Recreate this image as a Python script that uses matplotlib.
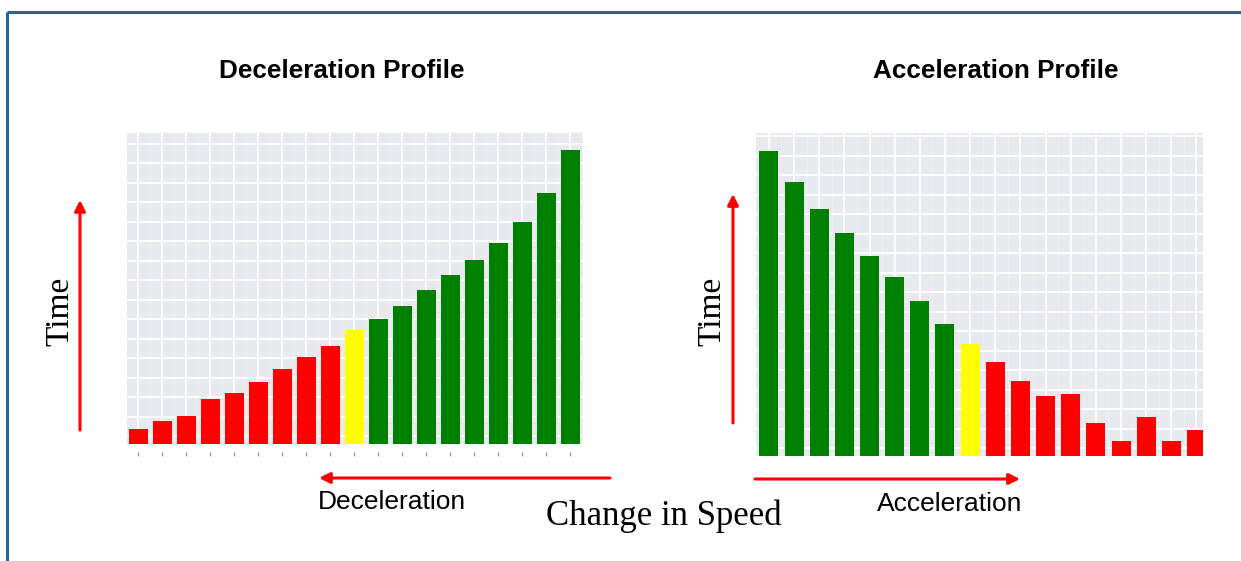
import numpy as np
import matplotlib
matplotlib.use('Agg')
import matplotlib.pyplot as plt
from matplotlib.ticker import FixedLocator

# ==========================================
# 数据 (从参考图中读出的柱高, 单位: 像素高度)
# ==========================================
decel_heights = [15, 23, 28, 45, 51, 62, 75, 87, 98, 114,
                 125, 138, 154, 169, 184, 201, 222, 251, 294]
decel_colors = ['red'] * 9 + ['yellow'] + ['green'] * 9

accel_heights = [305, 274, 247, 223, 200, 179, 155, 132, 112,
                 94, 75, 60, 62, 33, 15, 39, 15, 26]
accel_colors = ['green'] * 8 + ['yellow'] + ['red'] * 9

color_map = {'red': '#FF0000', 'yellow': '#FFFF00', 'green': '#008000'}

titles = ['Deceleration Profile', 'Acceleration Profile']
arrow_labels = ['Deceleration', 'Acceleration']
y_label = 'Time'
x_label = 'Change in Speed'

W, H = 1241, 561
GRID_BG = '#E8E9EF'
BORDER = '#22669A'


def style_panel(ax, n, xlim, ymax):
    ax.set_facecolor(GRID_BG)
    ax.set_xlim(*xlim)
    ax.set_ylim(0, ymax)
    for s in ax.spines.values():
        s.set_visible(False)
    # 主网格在柱中心, 柱之间只有很淡的次网格
    ax.xaxis.set_major_locator(FixedLocator(np.arange(n)))
    ax.xaxis.set_minor_locator(FixedLocator(np.arange(n) + 0.5))
    ax.yaxis.set_major_locator(FixedLocator(np.arange(8, ymax, 19.5)))
    ax.grid(True, which='major', color='white', linewidth=1.4, alpha=0.9)
    ax.grid(True, which='minor', axis='x', color='white', linewidth=0.6, alpha=0.35)
    ax.set_axisbelow(True)
    ax.set_yticklabels([])
    ax.tick_params(axis='y', which='both', length=0)
    ax.tick_params(axis='x', which='minor', length=0)


def main():
    fig = plt.figure(figsize=(W / 100, H / 100), dpi=100)

    # 覆盖整张图的像素坐标层: 边框、文字、箭头
    ov = fig.add_axes([0, 0, 1, 1])
    ov.set_xlim(0, W)
    ov.set_ylim(H, 0)
    ov.axis('off')
    ov.plot([7, W], [12, 12], color=BORDER, linewidth=2.2, solid_capstyle='butt')
    ov.plot([7, 7], [12, H], color=BORDER, linewidth=2.2, solid_capstyle='butt')

    # ---------------- 左图: 减速 ----------------
    ax1 = fig.add_axes([127 / W, 1 - 444 / H, 456 / W, 311 / H])
    n1 = len(decel_heights)
    ax1.bar(np.arange(n1), decel_heights, width=0.775,
            color=[color_map[c] for c in decel_colors])
    style_panel(ax1, n1, (-0.47, 18.53), 311)
    ax1.spines['bottom'].set_position(('outward', 6))
    ax1.set_xticklabels([])
    ax1.tick_params(axis='x', which='major', length=3, width=1, color='#9a9a9a')

    # ---------------- 右图: 加速 ----------------
    ax2 = fig.add_axes([756 / W, 1 - 456 / H, 447 / W, 323 / H])
    n2 = len(accel_heights)
    ax2.bar(np.arange(n2), accel_heights, width=0.755,
            color=[color_map[c] for c in accel_colors])
    style_panel(ax2, n2, (-0.513, 17.26), 323)
    ax2.set_xticklabels([])
    ax2.tick_params(axis='x', which='major', length=0)

    # 标题
    sans = ['Liberation Sans', 'DejaVu Sans']
    serif = ['Liberation Serif', 'DejaVu Serif']
    ov.text(342, 71, titles[0], ha='center', va='center', fontsize=18.8,
            fontweight='bold', family=sans)
    ov.text(996, 71, titles[1], ha='center', va='center', fontsize=18.8,
            fontweight='bold', family=sans)

    # 纵向箭头 + Time
    arrow = dict(arrowstyle='-|>', color='#FF0000', lw=2.2, mutation_scale=16,
                 shrinkA=0, shrinkB=0)
    ov.annotate('', xy=(80, 200), xytext=(80, 430), arrowprops=arrow)
    ov.annotate('', xy=(733, 194), xytext=(733, 423), arrowprops=arrow)
    ov.text(60, 311, y_label, rotation=90, ha='center', va='center',
            fontsize=24, family=serif)
    ov.text(712, 311, y_label, rotation=90, ha='center', va='center',
            fontsize=24, family=serif)

    # 横向箭头 + 标签
    ov.annotate('', xy=(319, 478), xytext=(610, 478), arrowprops=arrow)
    ov.annotate('', xy=(1020, 479), xytext=(755, 479), arrowprops=arrow)
    ov.text(392, 502, arrow_labels[0], ha='center', va='center',
            fontsize=19, family=sans)
    ov.text(950, 504, arrow_labels[1], ha='center', va='center',
            fontsize=19, family=sans)

    ov.text(664, 525, x_label, ha='center', va='baseline',
            fontsize=25, family=serif)

    fig.savefig('out.png', dpi=100)


if __name__ == '__main__':
    main()
